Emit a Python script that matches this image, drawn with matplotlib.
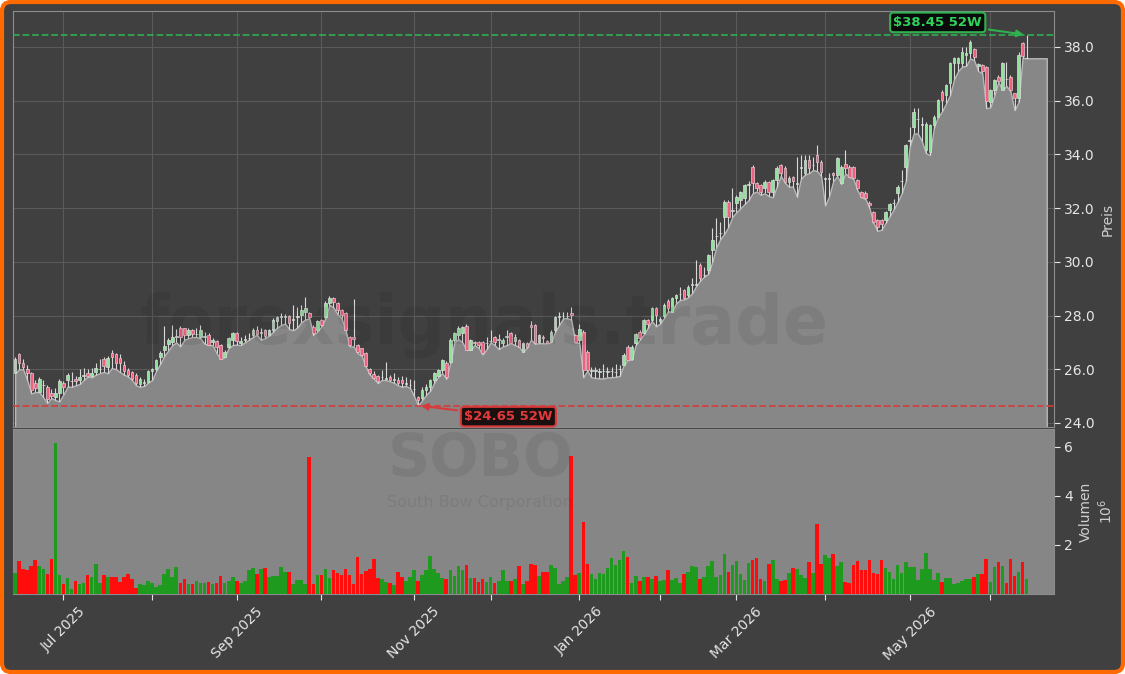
import numpy as np
import pandas as pd
import matplotlib
matplotlib.use("Agg")
from matplotlib import pyplot as plt
from matplotlib.patches import FancyBboxPatch

# ---- daily OHLC (USD) and volume (millions) ----
opens = [
    25.85, 26.57, 26.22, 26.00, 25.85, 25.50, 25.15, 25.40, 25.35, 25.10,
    24.98, 25.13, 25.50, 25.60, 25.55, 25.62, 25.60, 25.75, 25.85, 25.75,
    25.90, 26.00, 26.40, 26.08, 26.62, 26.55, 26.42, 26.15, 25.97, 25.88,
    25.80, 25.45, 25.50, 25.52, 25.95, 26.00, 26.45, 26.72, 26.94, 27.03,
    27.20, 27.55, 27.52, 27.26, 27.47, 27.30, 27.21, 27.20, 27.26, 27.02,
    27.06, 26.92, 26.45, 26.84, 27.10, 27.34, 26.98, 27.10, 27.15, 27.28,
    27.46, 27.35, 27.46, 27.28, 27.46, 27.80, 27.96, 27.96, 27.99, 27.85,
    27.93, 28.02, 28.15, 28.10, 27.59, 27.46, 27.83, 27.96, 28.46, 28.64,
    28.46, 28.21, 28.08, 27.21, 27.21, 26.90, 26.78, 26.60, 26.00, 25.81,
    25.76, 25.70, 25.65, 25.72, 25.60, 25.60, 25.60, 25.45, 25.40, 25.25,
    24.96, 24.92, 25.23, 25.35, 25.60, 25.75, 25.97, 26.22, 26.28, 27.09,
    27.27, 27.34, 27.62, 26.72, 27.02, 27.00, 27.00, 26.97, 27.05, 27.21,
    27.10, 26.97, 27.20, 27.34, 27.05, 27.09, 26.66, 26.97, 27.65, 27.65,
    27.03, 27.21, 27.06, 27.03, 27.46, 27.96, 27.98, 27.98, 28.11, 27.28,
    27.09, 27.40, 26.66, 25.95, 25.95, 25.90, 25.92, 25.90, 25.92, 25.88,
    26.00, 26.16, 26.84, 26.40, 26.97, 27.40, 27.36, 27.83, 27.83, 28.27,
    27.80, 27.98, 28.55, 28.15, 28.64, 28.80, 28.95, 28.77, 29.14, 29.14,
    29.88, 29.50, 29.70, 30.44, 30.95, 31.06, 31.68, 32.24, 31.90, 32.18,
    32.30, 32.36, 32.86, 33.54, 32.92, 32.86, 32.74, 32.98, 32.61, 33.05,
    33.60, 33.51, 32.98, 33.17, 32.90, 33.50, 33.29, 33.79, 33.60, 33.98,
    33.73, 33.10, 33.10, 33.29, 33.23, 32.92, 33.63, 33.54, 33.54, 33.05,
    32.61, 32.58, 32.20, 31.87, 31.56, 31.54, 31.56, 31.93, 32.18, 32.55,
    33.00, 33.54, 34.50, 35.03, 35.30, 35.10, 34.16, 34.10, 35.09, 35.40,
    36.34, 36.21, 36.65, 37.39, 37.39, 37.39, 37.72, 37.76, 37.92, 37.30,
    37.33, 37.27, 35.96, 36.40, 36.89, 36.40, 36.82, 36.89, 36.27, 36.10,
    38.13, 37.58,
]
highs = [
    26.45, 26.62, 26.40, 26.15, 25.90, 25.60, 25.70, 25.60, 25.40, 25.25,
    25.30, 25.65, 25.55, 25.85, 25.90, 25.75, 26.00, 26.05, 26.00, 26.05,
    26.25, 26.40, 26.45, 26.50, 26.70, 26.60, 26.55, 26.30, 26.05, 25.95,
    25.85, 25.70, 25.62, 25.98, 26.05, 26.40, 26.67, 27.60, 27.15, 27.65,
    27.50, 27.60, 27.55, 27.55, 27.50, 27.55, 27.65, 27.40, 27.35, 27.15,
    27.10, 26.95, 26.70, 27.20, 27.40, 27.38, 27.20, 27.28, 27.35, 27.55,
    27.62, 27.55, 27.50, 27.50, 27.90, 28.00, 28.10, 28.05, 28.02, 28.40,
    28.30, 28.40, 28.70, 28.15, 27.65, 27.85, 27.88, 28.55, 28.72, 28.70,
    28.50, 28.25, 28.12, 27.25, 28.60, 26.95, 26.80, 26.65, 26.05, 25.95,
    25.80, 25.97, 26.28, 25.78, 25.85, 25.70, 25.75, 25.70, 25.62, 25.60,
    25.00, 25.35, 25.45, 25.65, 25.90, 26.00, 26.40, 26.30, 27.15, 27.40,
    27.60, 27.62, 27.70, 27.12, 27.05, 27.05, 27.05, 27.21, 27.46, 27.25,
    27.30, 27.15, 27.46, 27.38, 27.30, 27.12, 27.00, 27.00, 27.78, 27.70,
    27.32, 27.28, 27.10, 27.45, 28.00, 28.15, 28.15, 28.15, 28.30, 27.32,
    27.70, 27.45, 26.70, 26.10, 26.10, 26.05, 26.20, 26.10, 26.10, 26.20,
    26.15, 26.60, 26.90, 26.90, 27.35, 27.45, 27.88, 27.88, 28.32, 28.30,
    27.95, 28.45, 28.60, 28.70, 28.80, 29.08, 29.00, 29.12, 29.40, 30.07,
    29.95, 29.80, 30.30, 31.25, 31.62, 31.50, 32.30, 32.30, 32.74, 32.50,
    32.65, 32.90, 33.00, 33.60, 32.98, 32.90, 33.05, 33.02, 33.10, 33.55,
    33.65, 33.55, 33.20, 33.20, 33.91, 33.98, 33.98, 33.98, 33.91, 34.35,
    33.78, 33.17, 33.29, 33.35, 33.90, 33.60, 34.16, 33.60, 33.58, 33.10,
    32.65, 32.62, 32.25, 31.90, 31.60, 31.58, 31.90, 32.20, 32.35, 32.85,
    33.42, 34.40, 35.03, 35.72, 35.72, 35.40, 35.20, 35.15, 35.45, 36.08,
    36.40, 36.62, 37.45, 37.62, 37.62, 38.00, 38.00, 38.26, 37.98, 37.40,
    37.38, 37.30, 36.45, 36.82, 36.95, 37.45, 37.45, 36.95, 36.30, 37.80,
    38.20, 38.45,
]
lows = [
    25.85, 26.00, 26.00, 25.60, 25.10, 25.15, 25.15, 24.95, 24.75, 24.93,
    24.85, 24.80, 25.07, 25.35, 25.35, 25.40, 25.45, 25.60, 25.73, 25.70,
    25.80, 25.85, 25.90, 25.85, 26.05, 26.00, 25.90, 25.80, 25.73, 25.60,
    25.40, 25.35, 25.38, 25.50, 25.60, 25.95, 26.20, 26.50, 26.70, 26.90,
    27.00, 26.85, 27.10, 27.16, 27.20, 27.20, 27.15, 26.95, 26.90, 26.90,
    26.60, 26.38, 26.45, 26.80, 26.90, 26.92, 26.90, 27.00, 27.10, 27.20,
    27.28, 27.10, 27.16, 27.25, 27.40, 27.55, 27.65, 27.70, 27.50, 27.45,
    27.55, 27.75, 27.85, 27.90, 27.28, 27.40, 27.60, 27.90, 28.40, 28.30,
    28.05, 27.90, 27.45, 26.85, 26.85, 26.60, 26.50, 26.10, 25.80, 25.65,
    25.48, 25.60, 25.60, 25.55, 25.50, 25.40, 25.35, 25.38, 25.30, 25.00,
    24.65, 24.85, 25.05, 25.20, 25.50, 25.72, 25.85, 25.65, 26.25, 27.00,
    27.12, 27.00, 26.72, 26.72, 26.90, 26.80, 26.55, 26.75, 27.00, 26.90,
    26.75, 26.85, 26.90, 26.97, 26.90, 26.84, 26.65, 26.80, 27.10, 26.95,
    26.97, 26.97, 26.97, 27.00, 27.40, 27.65, 27.90, 27.90, 27.85, 27.00,
    26.97, 25.70, 25.95, 25.70, 25.68, 25.66, 25.66, 25.70, 25.70, 25.72,
    25.75, 26.15, 26.35, 26.35, 26.90, 27.10, 27.30, 27.55, 27.80, 27.60,
    27.70, 27.90, 28.15, 28.15, 28.45, 28.58, 28.60, 28.68, 28.83, 29.10,
    29.30, 29.45, 29.55, 30.00, 30.55, 30.85, 31.05, 31.30, 31.68, 31.85,
    32.00, 32.15, 32.30, 32.55, 32.62, 32.50, 32.55, 32.45, 32.40, 32.80,
    33.20, 32.95, 32.80, 32.80, 32.43, 33.10, 33.25, 33.30, 33.42, 33.38,
    33.20, 32.10, 32.45, 33.00, 33.20, 32.90, 33.30, 33.15, 33.10, 32.67,
    32.40, 32.35, 32.00, 31.45, 31.15, 31.20, 31.45, 31.70, 31.95, 32.24,
    32.55, 33.00, 34.30, 34.78, 34.78, 34.50, 34.05, 33.98, 35.00, 35.40,
    35.60, 35.90, 36.21, 36.80, 37.10, 37.27, 37.30, 37.58, 37.50, 37.10,
    37.02, 35.72, 35.75, 36.20, 36.70, 36.40, 36.55, 36.35, 35.65, 35.95,
    37.60, 37.58,
]
closes = [
    26.40, 26.22, 26.10, 25.85, 25.22, 25.30, 25.65, 25.42, 24.90, 25.02,
    25.12, 25.57, 25.33, 25.80, 25.58, 25.58, 25.72, 25.76, 25.76, 25.85,
    26.05, 26.02, 26.12, 26.42, 26.45, 26.22, 26.22, 25.92, 25.80, 25.65,
    25.50, 25.62, 25.52, 25.92, 26.00, 26.35, 26.62, 26.85, 27.10, 27.21,
    27.22, 27.21, 27.26, 27.46, 27.30, 27.32, 27.46, 27.22, 26.90, 27.09,
    26.84, 26.40, 26.65, 27.15, 27.36, 27.05, 27.06, 27.12, 27.16, 27.46,
    27.32, 27.36, 27.24, 27.46, 27.84, 27.93, 27.98, 28.00, 27.71, 27.86,
    27.98, 28.20, 28.27, 27.96, 27.34, 27.80, 27.65, 28.46, 28.64, 28.52,
    28.21, 28.02, 27.46, 26.90, 27.12, 26.65, 26.53, 26.12, 25.85, 25.69,
    25.56, 25.71, 25.66, 25.60, 25.61, 25.48, 25.48, 25.46, 25.41, 25.26,
    24.86, 25.23, 25.35, 25.60, 25.85, 25.97, 26.35, 25.72, 27.09, 27.34,
    27.53, 27.59, 26.72, 27.09, 26.97, 26.90, 26.59, 26.98, 27.06, 27.03,
    27.12, 27.09, 27.22, 26.97, 27.21, 26.84, 26.96, 26.84, 27.56, 26.97,
    27.28, 27.15, 26.97, 27.40, 27.96, 27.98, 28.00, 28.00, 28.02, 27.03,
    27.49, 25.97, 25.97, 25.96, 25.96, 25.91, 25.93, 25.91, 25.93, 25.90,
    26.01, 26.53, 26.35, 26.84, 27.31, 27.15, 27.83, 27.68, 28.27, 28.02,
    27.88, 28.39, 28.27, 28.64, 28.77, 28.81, 28.64, 29.08, 29.15, 29.16,
    29.39, 29.52, 30.25, 30.81, 30.97, 31.08, 32.24, 31.66, 31.92, 32.43,
    32.61, 32.86, 32.87, 32.92, 32.74, 32.61, 32.98, 32.61, 33.05, 33.48,
    33.29, 32.98, 33.14, 33.02, 32.92, 33.52, 33.79, 33.48, 33.62, 33.73,
    33.35, 33.11, 33.12, 33.23, 33.85, 33.54, 33.48, 33.17, 33.11, 32.74,
    32.43, 32.36, 32.12, 31.50, 31.31, 31.40, 31.87, 32.14, 32.19, 32.80,
    33.02, 34.35, 34.52, 35.59, 35.32, 35.12, 35.15, 35.09, 35.40, 36.03,
    36.03, 36.58, 37.39, 37.58, 37.58, 37.82, 37.76, 38.20, 37.62, 37.35,
    37.11, 36.00, 36.40, 36.77, 36.74, 37.39, 36.80, 36.40, 36.10, 37.70,
    37.68, 37.60,
]
volumes = [
    0.87, 1.33, 1.00, 0.97, 1.13, 1.40, 1.16, 1.00, 0.80, 1.43,
    6.17, 0.79, 0.39, 0.65, 0.20, 0.52, 0.39, 0.44, 0.79, 0.71,
    1.23, 0.43, 0.79, 0.71, 0.71, 0.71, 0.49, 0.71, 0.83, 0.63,
    0.25, 0.39, 0.36, 0.52, 0.43, 0.29, 0.36, 0.80, 1.03, 0.68,
    1.11, 0.46, 0.63, 0.41, 0.39, 0.52, 0.44, 0.46, 0.50, 0.39,
    0.44, 0.75, 0.46, 0.52, 0.71, 0.52, 0.44, 0.55, 0.96, 1.08,
    0.80, 1.03, 1.08, 0.68, 0.75, 0.75, 1.11, 0.91, 0.91, 0.39,
    0.59, 0.59, 0.39, 5.60, 0.39, 0.79, 0.79, 1.03, 0.65, 0.96,
    0.87, 0.79, 1.03, 0.79, 0.39, 1.49, 0.83, 0.93, 1.03, 1.43,
    0.66, 0.63, 0.49, 0.44, 0.36, 0.90, 0.70, 0.55, 0.71, 0.99,
    0.55, 0.79, 0.97, 1.57, 1.03, 0.84, 0.65, 0.63, 0.96, 0.73,
    1.16, 0.99, 1.20, 0.66, 0.65, 0.49, 0.63, 0.49, 0.71, 0.44,
    0.55, 0.96, 0.55, 0.55, 0.63, 1.13, 0.39, 0.52, 1.24, 1.20,
    0.74, 0.91, 0.91, 1.20, 1.08, 0.39, 0.52, 0.71, 5.64, 0.79,
    0.84, 2.94, 1.23, 0.83, 0.60, 0.85, 0.83, 1.07, 1.48, 1.17,
    1.37, 1.74, 1.51, 0.43, 0.75, 0.55, 0.71, 0.71, 0.63, 0.75,
    0.52, 0.59, 0.96, 0.59, 0.67, 0.46, 0.83, 0.91, 1.16, 1.12,
    0.63, 0.71, 1.16, 1.36, 0.71, 0.79, 1.65, 0.91, 1.19, 1.36,
    0.83, 0.59, 1.27, 1.39, 1.48, 0.63, 0.55, 1.24, 1.39, 0.63,
    0.55, 0.59, 0.87, 1.07, 1.00, 0.79, 0.67, 1.31, 0.87, 2.85,
    1.23, 1.59, 1.48, 1.63, 1.16, 1.31, 0.50, 0.46, 1.19, 1.36,
    0.96, 0.96, 1.39, 0.87, 0.83, 1.39, 1.07, 0.91, 0.63, 1.19,
    0.87, 1.31, 1.09, 1.09, 0.59, 1.03, 1.68, 1.00, 0.59, 0.87,
    0.50, 0.67, 0.67, 0.39, 0.46, 0.55, 0.63, 0.63, 0.71, 0.83,
    0.83, 1.44, 0.50, 1.12, 1.31, 1.16, 0.46, 1.44, 0.75, 0.91,
    1.31, 0.63,
]
ticker = "SOBO"
company = "South Bow Corporation"
watermark = "forexsignals.trade"
holidays = ["2025-07-04", "2025-09-01", "2025-11-27", "2025-12-25", "2026-01-01",
            "2026-01-19", "2026-02-16", "2026-04-03", "2026-05-25"]

o = np.array(opens); h = np.array(highs); l = np.array(lows); c = np.array(closes)
vol = np.array(volumes)
n = len(c)
x = np.arange(n)
dates = pd.bdate_range("2025-06-13", periods=n, freq="C", holidays=holidays)

BG = "#404040"
GRID = "#5a5a5a"
TXT = "#e6e6e6"

fig = plt.figure(figsize=(11.25, 6.74), dpi=100, facecolor="white")
# rounded dark card with orange border, behind everything
card = FancyBboxPatch((0.02, 0.02), 11.21, 6.70, boxstyle="round,pad=0,rounding_size=0.09",
                      transform=fig.dpi_scale_trans, facecolor=BG, edgecolor="#ff6a00",
                      lw=3, zorder=-10)
fig.patches.append(card)

ax = fig.add_axes([0.01129, 0.36647, 0.92560, 0.61721])
axv = fig.add_axes([0.01129, 0.11869, 0.92560, 0.24481], sharex=ax)

# ---- price panel ----
ax.set_facecolor(BG)
ax.grid(True, color=GRID, lw=0.8)
ax.set_axisbelow(True)

xf = np.append(x, n + 4)
lf = np.append(l, l[-1])
ax.fill_between(xf, lf, 20, facecolor="#878787", edgecolor="#b8b8b8", lw=1.0, zorder=2)

up = c >= o
ax.vlines(x, l, h, color="#d8d8d8", lw=0.8, zorder=3)
body = np.maximum(np.abs(c - o), 0.02)
ax.bar(x[up], body[up], bottom=np.minimum(o, c)[up], width=0.65,
       color="#8fe39a", edgecolor="#dcdcdc", lw=0.5, zorder=4)
ax.bar(x[~up], body[~up], bottom=np.minimum(o, c)[~up], width=0.65,
       color="#f0607f", edgecolor="#e8c8d0", lw=0.5, zorder=4)

hi_i = int(np.argmax(h)); lo_i = int(np.argmin(l))
hi = h[hi_i]; lo = l[lo_i]
ax.axhline(hi, color="#2fb150", ls="--", lw=1.3, alpha=0.9, zorder=5)
ax.axhline(lo, color="#d83a3a", ls="--", lw=1.3, alpha=0.9, zorder=5)

ax.annotate(f"${hi:.2f} 52W", xy=(hi_i, hi), xytext=(-64, 9), textcoords="offset points",
            ha="center", va="center", color="#2fd35a", fontsize=9.5, fontweight="bold",
            bbox=dict(boxstyle="round,pad=0.25", fc="#0a0a0a", ec="#2fb150", lw=1.5),
            arrowprops=dict(arrowstyle="-|>", color="#2fb150", lw=1.5, mutation_scale=10),
            zorder=8)
ax.annotate(f"${lo:.2f} 52W", xy=(lo_i, lo), xytext=(65, -8), textcoords="offset points",
            ha="center", va="center", color="#e23a3a", fontsize=9.5, fontweight="bold",
            bbox=dict(boxstyle="round,pad=0.25", fc="#1a1010", ec="#d83a3a", lw=1.5),
            arrowprops=dict(arrowstyle="-|>", color="#d83a3a", lw=1.5, mutation_scale=10),
            zorder=8)

ax.text(0.4526, 0.245, watermark, transform=ax.transAxes, fontsize=48, fontweight="bold",
        color="black", alpha=0.07, ha="center", va="center", zorder=9)

ax.set_xlim(-0.6, 257.8)
ax.set_ylim(23.85, 39.34)
ax.set_yticks(np.arange(24, 39, 2))
ax.yaxis.set_major_formatter(plt.FormatStrFormatter("%.1f"))
ax.yaxis.tick_right()
ax.yaxis.set_label_position("right")
ax.set_ylabel("Preis", color="#cfcfcf", fontsize=10)
ax.tick_params(axis="y", colors=TXT, labelsize=10, length=4)
ax.tick_params(axis="x", bottom=False, labelbottom=False)
for s in ax.spines.values():
    s.set_color("#8c8c8c")

# ---- volume panel ----
axv.set_facecolor("#868686")
vcol = np.where(up, "#1e9a1e", "#ff0d0d")
axv.bar(x, vol, width=0.9, color=vcol, zorder=3)
axv.set_ylim(0, 6.73)
axv.set_yticks([2, 4, 6])
axv.yaxis.tick_right()
axv.yaxis.set_label_position("right")
axv.set_ylabel("Volumen\n$10^6$", color="#cfcfcf", fontsize=10)
axv.tick_params(axis="y", colors=TXT, labelsize=10, length=4)

axv.text(0.449, 0.815, ticker, transform=axv.transAxes, fontsize=42, fontweight="bold",
         color="black", alpha=0.07, ha="center", va="center", zorder=5)
axv.text(0.449, 0.555, company, transform=axv.transAxes, fontsize=11.5,
         color="black", alpha=0.07, ha="center", va="center", zorder=5)

month_idx = [i for i in range(1, n) if dates[i].month != dates[i - 1].month]
month_lbl = [dates[i].strftime("%b %Y") if dates[i].month % 2 == 1 else "" for i in month_idx]
axv.set_xticks(month_idx)
axv.set_xticklabels(month_lbl, rotation=45)
axv.tick_params(axis="x", colors=TXT, labelsize=10, length=4)
for s in axv.spines.values():
    s.set_color("#8c8c8c")

fig.savefig("out.png", dpi=100, facecolor=fig.get_facecolor())
